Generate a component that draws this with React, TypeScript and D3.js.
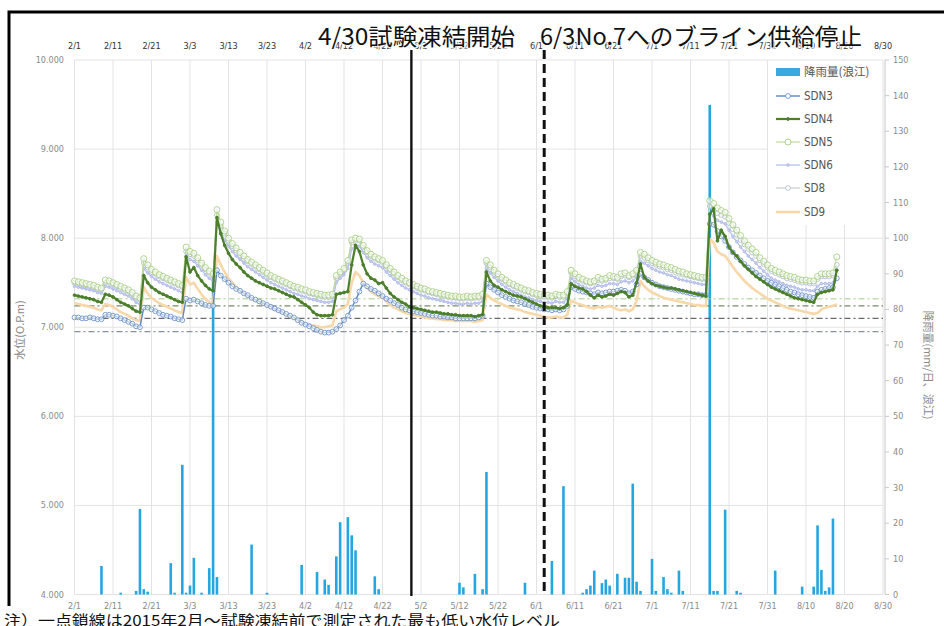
import React from 'react';
import * as d3 from 'd3';

const W = 944;
const H = 626;

const tickLabels = ['2/1','2/11','2/21','3/3','3/13','3/23','4/2','4/12','4/22','5/2','5/12','5/22','6/1','6/11','6/21','7/1','7/11','7/21','7/31','8/10','8/20','8/30'];
const leftTicks = [4, 5, 6, 7, 8, 9, 10];
const rightTicks = [0, 10, 20, 30, 40, 50, 60, 70, 80, 90, 100, 110, 120, 130, 140, 150];
const refLevels = [7.32, 7.24, 7.10, 6.95];
const refColors = ['#A9D18E', '#6E7F58', '#5A5A5A', '#7A8696'];

const rainDates = ['2/8','2/13','2/17','2/18','2/19','2/20','2/26','2/27','3/1','3/2','3/3','3/4','3/6','3/8','3/9','3/10','3/19','3/23','4/1','4/5','4/7','4/8','4/10','4/11','4/13','4/14','4/15','4/20','4/21','5/12','5/13','5/16','5/18','5/19','5/29','6/5','6/8','6/13','6/14','6/15','6/16','6/18','6/19','6/20','6/22','6/24','6/25','6/26','6/27','6/28','7/1','7/2','7/4','7/5','7/6','7/8','7/9','7/16','7/17','7/18','7/20','7/23','7/24','8/2','8/9','8/12','8/13','8/14','8/15','8/16','8/17'];
const rainMm = [8,0.5,1,24,1.5,0.8,8.8,0.5,36.4,0.5,2.5,10.3,0.5,7.4,90,4.9,14,0.5,8.3,6.3,4.2,2.7,10.7,20.3,21.7,16.6,12.4,5.1,1.5,3.3,2,5.8,1.5,34.4,3.3,9.4,30.4,0.5,1.5,2.5,6.7,3.2,4.2,2.5,5.8,4.7,4.7,31.1,3.6,1,10,1,4.9,1.5,0.5,6.7,1,137.4,1,1,23.8,1,0.5,6.7,2.2,2.2,19.4,6.9,1,2,21.3];

// daily water levels from 2/1 (index 0) to 8/18 (index 198)
const SDN3 = [
  7.11,7.11,7.10,7.10,7.11,7.10,7.09,7.09,
  7.14,7.14,7.13,7.12,7.10,7.08,7.06,7.04,7.01,7.00,
  7.22,7.22,7.20,7.18,7.16,7.14,7.13,7.12,7.10,7.09,7.08,
  7.32,7.30,7.31,7.29,7.27,7.25,7.24,7.24,
  7.64,7.58,7.54,7.50,7.46,7.43,7.41,7.38,7.36,7.33,7.31,7.29,7.27,7.25,7.23,7.21,7.19,7.17,7.15,7.13,7.11,7.08,7.05,7.03,7.01,6.99,6.97,6.95,6.94,6.94,6.95,
  6.98,7.02,7.08,7.13,7.22,7.30,7.40,7.49,7.46,7.43,7.41,7.38,7.35,7.32,7.30,7.27,7.25,7.22,7.20,7.19,7.18,7.17,7.16,7.15,7.14,7.13,7.13,7.12,7.12,7.11,7.11,7.10,7.10,7.10,7.10,7.10,7.10,7.11,7.13,
  7.49,7.45,7.42,7.39,7.36,7.34,7.32,7.30,7.29,7.28,7.26,7.25,7.23,7.22,7.21,7.20,7.20,7.19,7.20,7.19,7.20,7.24,
  7.45,7.43,7.41,7.40,7.39,7.38,7.37,7.39,7.38,7.39,7.40,7.40,7.41,7.42,7.41,7.38,7.40,7.48,
  7.60,7.56,7.53,7.50,7.48,7.46,7.45,7.44,7.43,7.42,7.41,7.40,7.39,7.38,7.37,7.37,7.36,7.36,
  8.16,8.15,8.08,8.02,7.97,7.90,7.84,7.79,7.75,7.71,7.67,7.64,7.61,7.58,7.55,7.52,7.50,7.48,7.46,7.44,7.42,7.40,7.39,7.37,7.36,7.35,7.34,7.33,7.40,7.42,7.43,7.44,7.45,7.55,
];
const SDN4 = [
  7.36,7.35,7.34,7.33,7.32,7.31,7.29,7.28,
  7.37,7.36,7.34,7.31,7.28,7.26,7.24,7.21,7.18,7.17,
  7.58,7.50,7.45,7.42,7.39,7.37,7.35,7.33,7.31,7.29,7.28,
  7.79,7.62,7.67,7.58,7.52,7.47,7.43,7.41,
  8.23,8.05,7.92,7.83,7.76,7.71,7.67,7.62,7.58,7.55,7.52,7.50,7.48,7.46,7.44,7.43,7.41,7.39,7.37,7.35,7.34,7.31,7.28,7.25,7.22,7.17,7.14,7.13,7.13,7.13,7.14,
  7.37,7.38,7.39,7.40,7.70,7.92,7.85,7.70,7.60,7.55,7.53,7.49,7.50,7.44,7.38,7.34,7.31,7.28,7.26,7.23,7.22,7.21,7.20,7.19,7.18,7.17,7.17,7.16,7.15,7.15,7.14,7.14,7.13,7.13,7.13,7.13,7.12,7.13,7.14,
  7.62,7.52,7.47,7.45,7.42,7.40,7.38,7.36,7.35,7.34,7.32,7.30,7.28,7.26,7.24,7.23,7.22,7.22,7.22,7.21,7.22,7.25,
  7.49,7.46,7.44,7.43,7.40,7.36,7.33,7.36,7.34,7.35,7.37,7.36,7.38,7.40,7.39,7.34,7.36,7.50,
  7.71,7.56,7.52,7.49,7.47,7.46,7.45,7.44,7.44,7.43,7.42,7.41,7.40,7.39,7.38,7.37,7.36,7.35,
  8.27,8.33,7.97,8.09,8.02,7.90,7.84,7.80,7.74,7.69,7.65,7.61,7.57,7.54,7.51,7.48,7.45,7.43,7.41,7.39,7.37,7.35,7.33,7.32,7.31,7.30,7.29,7.28,7.37,7.39,7.40,7.41,7.42,7.64,
];
const SDN5 = [
  7.52,7.51,7.50,7.49,7.48,7.47,7.45,7.44,
  7.53,7.52,7.50,7.48,7.46,7.44,7.42,7.39,7.35,7.33,
  7.77,7.70,7.65,7.62,7.59,7.57,7.55,7.53,7.51,7.49,7.47,
  7.90,7.85,7.83,7.78,7.72,7.67,7.63,7.60,
  8.32,8.18,8.08,8.00,7.94,7.89,7.84,7.80,7.76,7.73,7.70,7.67,7.64,7.61,7.58,7.56,7.54,7.52,7.50,7.48,7.46,7.45,7.43,7.42,7.40,7.39,7.38,7.37,7.36,7.36,7.37,
  7.58,7.62,7.66,7.75,7.98,8.00,7.99,7.92,7.86,7.82,7.79,7.77,7.75,7.70,7.66,7.62,7.58,7.55,7.52,7.50,7.48,7.46,7.44,7.43,7.41,7.40,7.39,7.38,7.37,7.36,7.35,7.35,7.34,7.34,7.35,7.34,7.35,7.35,7.37,
  7.75,7.70,7.64,7.60,7.56,7.53,7.50,7.48,7.46,7.44,7.42,7.41,7.39,7.38,7.37,7.36,7.36,7.35,7.37,7.36,7.36,7.40,
  7.64,7.60,7.56,7.54,7.52,7.51,7.52,7.56,7.54,7.55,7.58,7.57,7.56,7.60,7.61,7.58,7.60,7.64,
  7.84,7.82,7.78,7.75,7.73,7.71,7.70,7.68,7.67,7.65,7.63,7.62,7.60,7.59,7.58,7.57,7.56,7.56,
  8.42,8.39,8.34,8.31,8.29,8.22,8.15,8.09,8.03,7.97,7.92,7.88,7.84,7.78,7.74,7.70,7.66,7.64,7.62,7.60,7.58,7.57,7.56,7.54,7.53,7.53,7.52,7.52,7.57,7.60,7.60,7.60,7.61,7.79,
];
const SDN6 = [
  7.46,7.45,7.44,7.43,7.42,7.41,7.39,7.38,
  7.46,7.45,7.43,7.41,7.39,7.37,7.35,7.32,7.28,7.26,
  7.66,7.61,7.57,7.54,7.51,7.49,7.47,7.45,7.43,7.41,7.39,
  7.80,7.76,7.74,7.69,7.64,7.59,7.55,7.52,
  8.18,8.06,7.98,7.91,7.85,7.80,7.76,7.72,7.68,7.65,7.62,7.59,7.56,7.53,7.50,7.48,7.46,7.44,7.42,7.40,7.38,7.37,7.35,7.34,7.32,7.31,7.30,7.29,7.28,7.28,7.29,
  7.50,7.55,7.59,7.66,7.88,7.92,7.91,7.84,7.78,7.74,7.71,7.69,7.67,7.62,7.58,7.54,7.50,7.47,7.44,7.42,7.40,7.38,7.36,7.35,7.33,7.32,7.31,7.30,7.29,7.28,7.27,7.27,7.26,7.26,7.27,7.26,7.27,7.27,7.29,
  7.66,7.61,7.56,7.52,7.48,7.45,7.42,7.40,7.38,7.36,7.34,7.33,7.31,7.30,7.29,7.28,7.28,7.27,7.29,7.28,7.28,7.32,
  7.55,7.51,7.48,7.46,7.44,7.43,7.44,7.47,7.46,7.47,7.49,7.49,7.48,7.51,7.52,7.50,7.52,7.56,
  7.74,7.72,7.69,7.66,7.64,7.62,7.61,7.59,7.58,7.56,7.54,7.53,7.52,7.51,7.50,7.49,7.48,7.48,
  8.28,8.25,8.20,8.18,8.16,8.09,8.02,7.96,7.90,7.85,7.80,7.76,7.72,7.67,7.63,7.59,7.55,7.53,7.51,7.49,7.47,7.46,7.45,7.43,7.42,7.42,7.41,7.41,7.46,7.49,7.49,7.49,7.50,7.64,
];
const SD8 = [
  7.50,7.49,7.48,7.47,7.46,7.45,7.43,7.42,
  7.50,7.50,7.48,7.46,7.44,7.42,7.40,7.37,7.33,7.31,
  7.72,7.67,7.62,7.60,7.57,7.55,7.53,7.51,7.49,7.47,7.45,
  7.85,7.82,7.80,7.75,7.70,7.65,7.61,7.58,
  8.26,8.14,8.05,7.97,7.91,7.86,7.81,7.77,7.74,7.71,7.68,7.65,7.62,7.59,7.56,7.54,7.52,7.50,7.48,7.46,7.44,7.43,7.41,7.40,7.38,7.37,7.36,7.35,7.34,7.34,7.35,
  7.55,7.60,7.64,7.72,7.95,7.98,7.97,7.90,7.84,7.80,7.77,7.75,7.73,7.68,7.64,7.60,7.56,7.53,7.50,7.48,7.46,7.44,7.42,7.41,7.39,7.38,7.37,7.36,7.35,7.34,7.33,7.33,7.32,7.32,7.33,7.32,7.33,7.33,7.35,
  7.72,7.67,7.62,7.58,7.54,7.51,7.48,7.46,7.44,7.42,7.40,7.39,7.37,7.36,7.35,7.34,7.34,7.33,7.35,7.34,7.34,7.38,
  7.61,7.57,7.54,7.52,7.50,7.49,7.50,7.53,7.52,7.53,7.55,7.55,7.54,7.57,7.58,7.56,7.58,7.62,
  7.80,7.78,7.75,7.72,7.70,7.68,7.67,7.65,7.64,7.62,7.60,7.59,7.58,7.57,7.56,7.55,7.54,7.54,
  8.36,8.33,8.28,8.26,8.24,8.17,8.10,8.04,7.98,7.93,7.88,7.84,7.80,7.75,7.71,7.67,7.63,7.61,7.59,7.57,7.55,7.54,7.53,7.51,7.50,7.50,7.49,7.49,7.54,7.57,7.57,7.57,7.58,7.70,
];
const SD9 = [
  7.27,7.26,7.25,7.24,7.23,7.22,7.20,7.19,
  7.26,7.25,7.23,7.20,7.17,7.15,7.13,7.10,7.08,7.07,
  7.45,7.38,7.33,7.30,7.27,7.25,7.23,7.21,7.19,7.17,7.16,
  7.56,7.48,7.50,7.43,7.37,7.32,7.28,7.26,
  7.80,7.70,7.62,7.55,7.50,7.45,7.41,7.38,7.35,7.32,7.30,7.28,7.26,7.24,7.22,7.20,7.18,7.16,7.14,7.12,7.10,7.08,7.06,7.04,7.03,7.02,7.01,7.00,7.00,7.01,7.02,
  7.18,7.20,7.22,7.26,7.50,7.62,7.58,7.50,7.44,7.40,7.37,7.35,7.33,7.29,7.25,7.22,7.20,7.18,7.16,7.15,7.14,7.13,7.12,7.11,7.10,7.10,7.09,7.09,7.08,7.08,7.08,7.07,7.07,7.07,7.07,7.07,7.06,7.07,7.08,
  7.37,7.33,7.30,7.28,7.26,7.24,7.22,7.21,7.20,7.19,7.17,7.16,7.15,7.14,7.13,7.12,7.11,7.11,7.12,7.11,7.11,7.14,
  7.30,7.28,7.26,7.25,7.23,7.22,7.21,7.23,7.22,7.23,7.24,7.22,7.20,7.19,7.20,7.18,7.20,7.30,
  7.52,7.46,7.42,7.39,7.37,7.35,7.33,7.32,7.31,7.30,7.29,7.28,7.27,7.26,7.25,7.25,7.24,7.24,
  7.99,7.95,7.85,7.82,7.80,7.74,7.68,7.62,7.57,7.52,7.48,7.44,7.41,7.38,7.35,7.32,7.30,7.28,7.26,7.24,7.22,7.21,7.20,7.19,7.18,7.17,7.16,7.15,7.16,7.20,7.22,7.23,7.24,7.26,
];

const seriesNames = ['SDN3', 'SDN4', 'SDN5', 'SDN6', 'SD8', 'SD9'];
const seriesData = [SDN3, SDN4, SDN5, SDN6, SD8, SD9];
const seriesStyle = [
  { color: '#5B87C4', width: 1.4, marker: 'circle', r: 2.4, mstroke: '#6E93C8', mfill: '#ffffff' },
  { color: '#4C7F2C', width: 2.2, marker: 'dot', r: 1.4, mstroke: '#4C7F2C', mfill: '#4C7F2C' },
  { color: '#BFDB9C', width: 1.2, marker: 'circle', r: 3.0, mstroke: '#A8CF85', mfill: '#ffffff' },
  { color: '#B9C2EC', width: 1.3, marker: 'dot', r: 1.3, mstroke: '#AFB9E8', mfill: '#C9D0F0' },
  { color: '#C7CDD3', width: 1.2, marker: 'circle', r: 2.4, mstroke: '#B5C0CB', mfill: '#ffffff' },
  { color: '#F8D7A8', width: 2.6, marker: 'none', r: 0, mstroke: '#F8D7A8', mfill: '#F8D7A8' },
];
const drawOrder = [5, 4, 3, 0, 2, 1];

const START = new Date(2015, 1, 1);
const END = new Date(2015, 7, 30);
const parseMD = (s: string) => {
  const [m, d] = s.split('/').map(Number);
  return new Date(2015, m - 1, d);
};
const dayDate = (i: number) => d3.timeDay.offset(START, i);

export default function App() {
  const x = d3.scaleTime().domain([START, END]).range([74.5, 883]);
  const yL = d3.scaleLinear().domain([4, 10]).range([594.5, 60]);
  const yR = d3.scaleLinear().domain([0, 150]).range([594.5, 60]);
  const plotTop = 60, plotBottom = 594.5, plotLeft = 74.5, plotRight = 883;
  const axisFont = "'DejaVu Sans Condensed', 'Liberation Sans Narrow', sans-serif";
  const jp = "'Noto Sans CJK JP', sans-serif";

  const line = d3.line<number>().x((_, i) => x(dayDate(i))).y((d) => yL(d));

  const legendY = [96, 119, 142, 165, 188, 212];

  return (
    <svg width={W} height={H} style={{ position: 'fixed', left: 0, top: 0, background: '#fff' }}>
      <rect x={0} y={0} width={W} height={H} fill="#fff" />
      {/* frame */}
      <path d={`M9,606 V12 H944`} fill="none" stroke="#000" strokeWidth={3} />

      {/* horizontal gridlines */}
      {leftTicks.map((t) => (
        <line key={'hg' + t} x1={plotLeft} x2={plotRight} y1={yL(t)} y2={yL(t)} stroke="#E3E3E3" strokeWidth={1} />
      ))}
      {/* vertical gridlines */}
      {tickLabels.map((t) => (
        <line key={'vg' + t} x1={x(parseMD(t))} x2={x(parseMD(t))} y1={plotTop} y2={plotBottom} stroke="#E3E3E3" strokeWidth={1} />
      ))}
      {/* right axis */}
      <line x1={885} x2={885} y1={plotTop} y2={plotBottom} stroke="#D0D0D0" strokeWidth={1.2} />
      {rightTicks.map((t) => (
        <line key={'rt' + t} x1={885} x2={889} y1={yR(t)} y2={yR(t)} stroke="#C8C8C8" />
      ))}

      {/* rain bars */}
      {rainDates.map((d, i) => (
        <rect key={'rb' + i} x={x(parseMD(d)) - 1.3} width={2.6} y={yR(rainMm[i])} height={yR(0) - yR(rainMm[i])} fill="#26A6E0" />
      ))}

      {/* reference dash-dot lines */}
      {refLevels.map((v, i) => (
        <line key={'ref' + i} x1={plotLeft} x2={plotRight} y1={yL(v)} y2={yL(v)} stroke={refColors[i]} strokeWidth={1.3} strokeDasharray="6,3,2,3" opacity={i === 0 ? 0.7 : 0.9} />
      ))}

      {/* water level series */}
      {drawOrder.map((si) => {
        const st = seriesStyle[si];
        const data = seriesData[si];
        return (
          <g key={'s' + si}>
            <path d={line(data) || ''} fill="none" stroke={st.color} strokeWidth={st.width} strokeLinejoin="round" />
            {st.marker !== 'none' && data.map((v, i) => (
              <circle key={i} cx={x(dayDate(i))} cy={yL(v)} r={st.r} fill={st.mfill} fillOpacity={st.marker === 'circle' ? 0.6 : 1} stroke={st.mstroke} strokeWidth={0.9} />
            ))}
          </g>
        );
      })}

      {/* event lines */}
      <line x1={x(new Date(2015, 3, 29, 12))} x2={x(new Date(2015, 3, 29, 12))} y1={50} y2={596} stroke="#111" strokeWidth={2.4} />
      <line x1={x(new Date(2015, 5, 3))} x2={x(new Date(2015, 5, 3))} y1={50} y2={596} stroke="#111" strokeWidth={3} strokeDasharray="9,5" />

      {/* legend */}
      <rect x={768} y={61} width={114} height={164} fill="#fff" />
      <rect x={776} y={68} width={24} height={8} fill="#3AA9DF" />
      <text x={804} y={76} fontFamily={jp} fontSize={11.5} fill="#555">降雨量(浪江)</text>
      {seriesNames.map((n, i) => {
        const st = seriesStyle[i];
        const ly = legendY[i];
        return (
          <g key={'lg' + n}>
            <line x1={776} x2={800} y1={ly} y2={ly} stroke={st.color} strokeWidth={st.width} />
            {st.marker !== 'none' && (
              <circle cx={788} cy={ly} r={st.r} fill={st.mfill} stroke={st.mstroke} strokeWidth={0.9} />
            )}
            <text x={804} y={ly + 4} fontFamily={axisFont} fontSize={11.5} fill="#555">{n}</text>
          </g>
        );
      })}

      {/* left axis labels */}
      {leftTicks.map((t) => (
        <text key={'ll' + t} x={64} y={yL(t) + 3} textAnchor="end" fontFamily={axisFont} fontSize={9} fill="#8A8A8A">{d3.format('.3f')(t)}</text>
      ))}
      {/* right axis labels */}
      {rightTicks.map((t) => (
        <text key={'rl' + t} x={893} y={yR(t) + 3} fontFamily={axisFont} fontSize={9} fill="#8A8A8A">{t}</text>
      ))}
      {/* bottom labels */}
      {tickLabels.map((t) => (
        <text key={'bl' + t} x={x(parseMD(t))} y={609} textAnchor="middle" fontFamily={axisFont} fontSize={9} fill="#8A8A8A">{t}</text>
      ))}
      {/* top labels */}
      {tickLabels.map((t) => (
        <text key={'tl' + t} x={x(parseMD(t))} y={49} textAnchor="middle" fontFamily={axisFont} fontSize={9} fill="#333">{t}</text>
      ))}

      {/* axis titles */}
      <text transform="translate(24,330) rotate(-90)" textAnchor="middle" fontFamily={jp} fontSize={11} fill="#8A8A8A">水位(O.P.m)</text>
      <text transform="translate(924,365) rotate(90)" textAnchor="middle" fontFamily={jp} fontSize={11} fill="#8A8A8A">降雨量(mm/日、浪江)</text>

      {/* title */}
      <text x={318} y={45} fontFamily={jp} fontSize={23} fill="#111" stroke="#fff" strokeWidth={3} strokeOpacity={0.7} paintOrder="stroke" textLength={197} lengthAdjust="spacingAndGlyphs">4/30試験凍結開始</text>
      <text x={540} y={45} fontFamily={jp} fontSize={23} fill="#111" stroke="#fff" strokeWidth={3} strokeOpacity={0.7} paintOrder="stroke" textLength={322} lengthAdjust="spacingAndGlyphs">6/3No.7へのブライン供給停止</text>

      {/* note */}
      <text x={4} y={626} fontFamily={jp} fontSize={15} fill="#111" textLength={556} lengthAdjust="spacingAndGlyphs">注）一点鎖線は2015年2月～試験凍結前で測定された最も低い水位レベル</text>
    </svg>
  );
}
